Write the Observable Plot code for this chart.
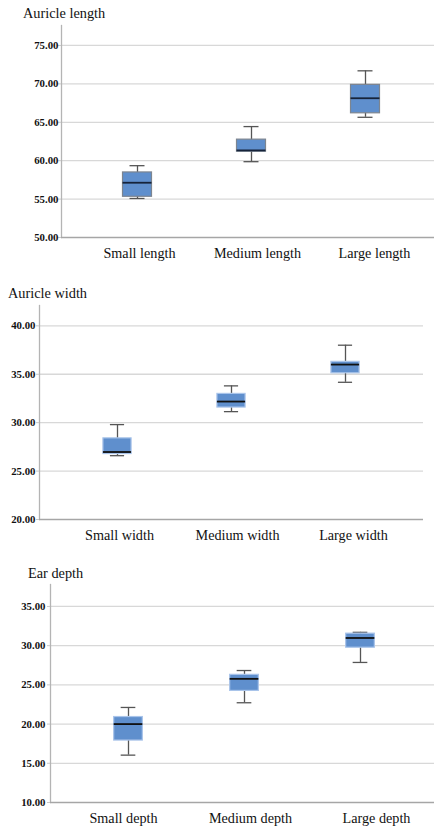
<!DOCTYPE html>
<html>
<head>
<meta charset="utf-8">
<script src="https://cdn.jsdelivr.net/npm/d3@7"></script>
<script src="https://cdn.jsdelivr.net/npm/@observablehq/plot@0.6"></script>
<style>
  html, body { margin: 0; padding: 0; background: #fff; }
  #chart { position: relative; width: 434px; height: 827px; overflow: hidden; background: #fff; }
  .panel { position: absolute; left: 0; }
  .panel-title {
    position: absolute;
    font-family: "Liberation Serif", "Times New Roman", serif;
    font-size: 14.3px;
    color: #111;
    white-space: nowrap;
    line-height: 1;
  }
</style>
</head>
<body>
<div id="chart"></div>
<script>
// Auricle length (mm): whisker ends, quartiles and median per group
const lengthGroups = ["Small length", "Medium length", "Large length"];
const lengthLow = [55.08, 59.87, 65.65];
const lengthQ1 = [55.3, 61.17, 66.17];
const lengthMedian = [57.13, 61.34, 68.13];
const lengthQ3 = [58.47, 62.74, 69.87];
const lengthHigh = [59.35, 64.44, 71.7];
const lengthTicks = [50, 55, 60, 65, 70, 75];

// Auricle width (mm)
const widthGroups = ["Small width", "Medium width", "Large width"];
const widthLow = [26.59, 31.14, 34.17];
const widthQ1 = [26.76, 31.56, 35.1];
const widthMedian = [26.97, 32.18, 36.0];
const widthQ3 = [28.38, 32.97, 36.28];
const widthHigh = [29.8, 33.8, 38.0];
const widthTicks = [20, 25, 30, 35, 40];

// Ear depth (mm)
const depthGroups = ["Small depth", "Medium depth", "Large depth"];
const depthLow = [16.04, 22.72, 27.86];
const depthQ1 = [17.9, 24.23, 29.74];
const depthMedian = [20.0, 25.77, 30.98];
const depthQ3 = [20.9, 26.28, 31.53];
const depthHigh = [22.12, 26.83, 31.7];
const depthTicks = [10, 15, 20, 25, 30, 35];

const serif = "Liberation Serif, Times New Roman, serif";
const boxFill = "#5f8fcd";
const boxWidth = 29;
const capWidth = 15;

function drawPanel(p) {
  const rows = p.groups.map((g, i) => ({
    group: g, low: p.low[i], q1: p.q1[i], median: p.median[i], q3: p.q3[i], high: p.high[i]
  }));
  const step = (p.xRange[1] - p.xRange[0]) / p.groups.length;
  const boxInset = (step - boxWidth) / 2;
  const capInset = (step - capWidth) / 2;
  const fmt = d3.format(".2f");

  // category labels under the baseline, each nudged on its own
  const categoryLabels = p.groups.map((g, i) =>
    Plot.text([g], {
      x: d => d, frameAnchor: "bottom", lineAnchor: "top",
      dy: p.labelPadding, dx: p.labelDx[i],
      fontFamily: serif, fontSize: 14.2, fill: "#111"
    })
  );

  const svg = Plot.plot({
    width: 434,
    height: p.height,
    marginLeft: p.marginLeft,
    marginRight: p.marginRight,
    marginTop: p.marginTop,
    marginBottom: p.marginBottom,
    style: { fontFamily: serif, background: "#fff", color: "#111" },
    x: { type: "band", domain: p.groups, range: p.xRange, padding: 0, axis: null },
    y: { domain: p.yDomain },
    marks: [
      // horizontal gridlines
      Plot.ruleY(p.ticks.filter(t => t > p.yDomain[0]), { stroke: "#d8d8d8", strokeWidth: 1.3 }),
      // left axis line and baseline
      Plot.frame({ anchor: "left", stroke: "#b4b4b4", strokeWidth: 1.3 }),
      Plot.ruleY([p.yDomain[0]], { stroke: "#a6a6a6", strokeWidth: 1.6 }),
      Plot.axisY(p.ticks, {
        tickSize: 3, tickPadding: p.tickPadding, tickFormat: fmt,
        fontFamily: serif, fontSize: 10.8, fontWeight: "bold",
        stroke: "#c8c8c8", fill: "#111", label: null
      }),
      ...categoryLabels,
      // whiskers and caps
      Plot.ruleX(rows, { x: "group", y1: "low", y2: "high", stroke: "#555", strokeWidth: 1.3 }),
      Plot.tickY(rows, { x: "group", y: "low", insetLeft: capInset, insetRight: capInset, stroke: "#555", strokeWidth: 1.3 }),
      Plot.tickY(rows, { x: "group", y: "high", insetLeft: capInset, insetRight: capInset, stroke: "#555", strokeWidth: 1.3 }),
      // interquartile boxes
      Plot.barY(rows, {
        x: "group", y1: "q1", y2: "q3", insetLeft: boxInset, insetRight: boxInset,
        fill: boxFill, stroke: p.boxStroke, strokeWidth: 1.2
      }),
      // medians
      Plot.tickY(rows, {
        x: "group", y: "median", insetLeft: boxInset, insetRight: boxInset,
        stroke: p.medianStroke, strokeWidth: 1.8
      })
    ]
  });

  const wrap = document.createElement("div");
  wrap.className = "panel";
  wrap.style.top = p.top + "px";
  wrap.appendChild(svg);
  const title = document.createElement("div");
  title.className = "panel-title";
  title.textContent = p.title;
  title.style.left = p.titleX + "px";
  title.style.top = p.titleTop + "px";
  wrap.appendChild(title);
  document.getElementById("chart").appendChild(wrap);
}

drawPanel({
  title: "Auricle length", groups: lengthGroups,
  low: lengthLow, q1: lengthQ1, median: lengthMedian, q3: lengthQ3, high: lengthHigh,
  ticks: lengthTicks, yDomain: [50, 77.6],
  top: 0, height: 270, marginLeft: 61, marginRight: 0, marginTop: 25, marginBottom: 33,
  xRange: [80, 422], tickPadding: 0, labelPadding: 10, labelDx: [2, 6, 9],
  titleX: 23, titleTop: 6, boxStroke: "#7d8590", medianStroke: "#16233a"
});

drawPanel({
  title: "Auricle width", groups: widthGroups,
  low: widthLow, q1: widthQ1, median: widthMedian, q3: widthQ3, high: widthHigh,
  ticks: widthTicks, yDomain: [20, 42.1],
  top: 280, height: 270, marginLeft: 39, marginRight: 11, marginTop: 25, marginBottom: 31,
  xRange: [59, 403.5], tickPadding: 1, labelPadding: 10, labelDx: [2, 6, 8],
  titleX: 8, titleTop: 6, boxStroke: "#a9c4ea", medianStroke: "#111"
});

drawPanel({
  title: "Ear depth", groups: depthGroups,
  low: depthLow, q1: depthQ1, median: depthMedian, q3: depthQ3, high: depthHigh,
  ticks: depthTicks, yDomain: [10, 37.8],
  top: 555, height: 272, marginLeft: 50, marginRight: 0, marginTop: 29, marginBottom: 25,
  xRange: [69, 418], tickPadding: 2, labelPadding: 10, labelDx: [-5, 6, 16],
  titleX: 28, titleTop: 11, boxStroke: "#a9c4ea", medianStroke: "#111"
});
</script>
</body>
</html>
